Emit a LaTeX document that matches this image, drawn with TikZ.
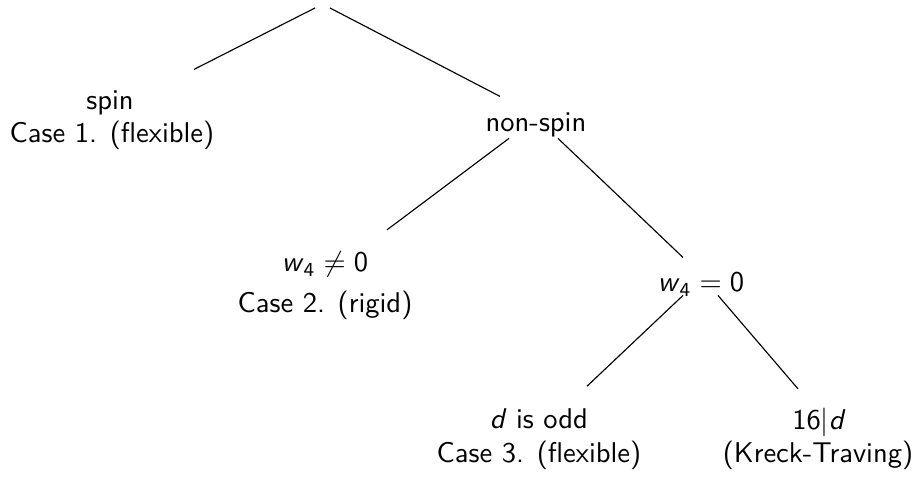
\documentclass[tikz,border=0pt]{standalone}
\usepackage{amsmath}
\usetikzlibrary{calc}
\begin{document}
\begin{tikzpicture}[x=0.35pt,y=-0.35pt,
  lbl/.style={anchor=base,inner sep=0pt,font=\sffamily},
  branch/.style={line width=0.4pt}]
\useasboundingbox (0,0) rectangle (918,481);
\coordinate (root) at (322.5,4);
\node[lbl] (spin) at (110,110) {spin};
\node[lbl] (case1) at (112,143) {Case 1. (flexible)};
\node[lbl] (nonspin) at (536,132) {non-spin};
\node[lbl] (wne) at (325,272) {\textit{w}$_{\text{4}}\neq\text{0}$};
\node[lbl] (case2) at (325,313) {Case 2. (rigid)};
\node[lbl] (weq) at (701,292) {\textit{w}$_{\text{4}}=\text{0}$};
\node[lbl] (dodd) at (539,429) {\textit{d} is odd};
\node[lbl] (case3) at (539,463) {Case 3. (flexible)};
\node[lbl] (sixteen) at (818,430) {$\text{16}|\textit{d}$};
\node[lbl] (kreck) at (818,463) {(Kreck-Traving)};
\draw[branch] ($(root)+(-7.5,4)$) -- ($(spin)+(84,-34)$);
\draw[branch] ($(root)+(7.5,4)$) -- ($(nonspin)+(-36,-29)$);
\draw[branch] ($(nonspin)+(-27,13)$) -- ($(wne)+(62,-35)$);
\draw[branch] ($(nonspin)+(22,13)$) -- ($(weq)+(-18,-27)$);
\draw[branch] ($(weq)+(-18,11)$) -- ($(dodd)+(48,-33)$);
\draw[branch] ($(weq)+(17,11)$) -- ($(sixteen)+(-20,-34)$);
\end{tikzpicture}
\end{document}
